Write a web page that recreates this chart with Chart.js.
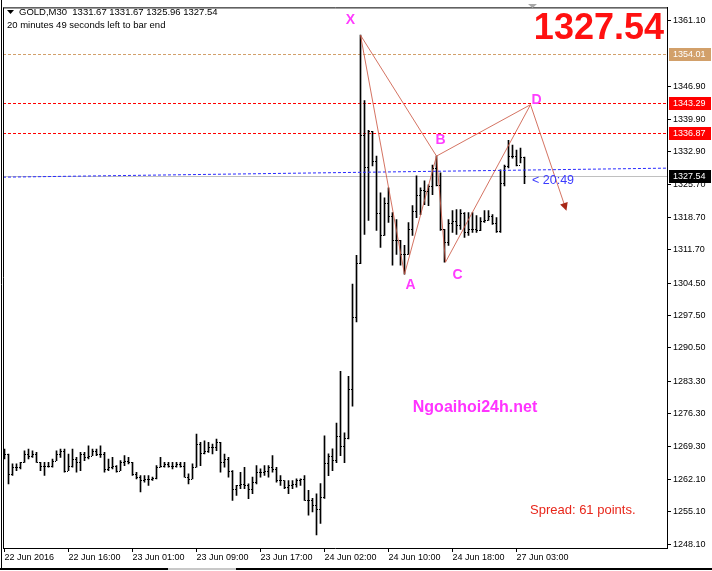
<!DOCTYPE html>
<html>
<head>
<meta charset="utf-8">
<script src="https://cdn.jsdelivr.net/npm/chart.js@4.4.0/dist/chart.umd.min.js"></script>
<style>
  html, body { margin: 0; padding: 0; background: #fff; }
  #wrap { width: 712px; height: 571px; position: relative; }
</style>
</head>
<body>
<div id="wrap"><canvas id="chart" width="712" height="571"></canvas></div>
<script>
// ================== Data ==================
const tickBars = [0, 16, 32, 48, 64, 80, 96, 112, 128];
const tickLabels = ["22 Jun 2016", "22 Jun 16:00", "23 Jun 01:00", "23 Jun 09:00", "23 Jun 17:00",
  "24 Jun 02:00", "24 Jun 10:00", "24 Jun 18:00", "27 Jun 03:00"];
const priceTicks = [1361.10, 1346.90, 1339.90, 1332.90, 1325.70, 1318.70, 1311.70, 1304.50,
  1297.50, 1290.50, 1283.30, 1276.30, 1269.30, 1262.10, 1255.10, 1248.10];

// GOLD M30 bars, 22 Jun 08:00 .. 27 Jun 04:00
const opens = [1268.00,1267.59,1263.30,1264.73,1264.73,1265.80,1267.59,1267.23,1267.59,1265.80,
  1265.09,1265.09,1265.09,1266.16,1267.59,1268.30,1264.02,1265.09,1266.52,1265.80,
  1267.59,1266.87,1267.23,1268.30,1267.59,1267.59,1264.38,1264.73,1265.09,1264.02,
  1265.80,1266.16,1265.80,1263.30,1262.59,1261.88,1262.23,1262.23,1262.45,1264.73,
  1265.09,1265.45,1265.09,1265.09,1265.45,1265.09,1262.59,1262.23,1264.73,1269.73,
  1267.80,1268.30,1269.01,1269.01,1270.09,1265.80,1266.52,1264.02,1260.09,1260.81,
  1261.16,1260.81,1260.09,1261.52,1263.66,1263.66,1264.02,1264.73,1264.38,1261.88,
  1261.88,1260.45,1260.81,1261.16,1261.88,1262.23,1257.59,1257.59,1256.50,1255.81,
  1258.30,1265.71,1267.21,1266.35,1271.50,1269.35,1271.07,1281.56,1297.20,1308.77,
  1336.41,1329.55,1337.26,1330.84,1319.70,1314.77,1321.84,1319.06,1313.70,1313.70,
  1310.70,1310.70,1316.06,1320.13,1323.55,1324.62,1324.41,1325.48,1329.34,1325.70,
  1316.06,1313.27,1317.56,1317.99,1317.13,1319.70,1315.42,1316.06,1316.06,1315.84,
  1317.99,1318.20,1319.06,1317.56,1315.63,1326.12,1329.77,1331.91,1331.91,1329.98,
  1331.67];
const highs = [1268.66,1267.59,1265.45,1265.45,1265.80,1268.30,1268.66,1268.30,1267.94,1265.80,
  1265.80,1265.80,1266.52,1268.30,1268.66,1268.66,1267.59,1268.66,1266.87,1267.94,
  1267.94,1269.37,1268.66,1268.66,1269.37,1267.94,1266.52,1266.87,1265.09,1266.16,
  1267.23,1266.87,1265.80,1263.66,1262.95,1262.95,1262.95,1262.59,1265.09,1266.87,
  1265.80,1265.80,1265.80,1265.80,1265.80,1265.80,1263.30,1265.45,1271.87,1270.09,
  1270.44,1270.09,1269.73,1270.80,1270.09,1267.59,1266.87,1264.02,1260.81,1263.66,
  1264.73,1261.16,1262.59,1265.09,1264.38,1265.09,1265.09,1267.23,1264.73,1262.95,
  1261.88,1261.88,1261.88,1262.23,1262.23,1262.95,1259.73,1258.00,1259.00,1261.20,
  1271.50,1267.64,1268.71,1274.28,1285.42,1272.14,1284.35,1304.27,1310.49,1358.00,
  1343.90,1337.48,1337.26,1331.91,1323.98,1322.91,1325.05,1319.70,1318.20,1313.70,
  1312.63,1317.56,1321.20,1327.63,1325.05,1326.55,1325.70,1329.98,1331.91,1328.27,
  1316.10,1318.20,1320.13,1320.34,1320.34,1319.70,1319.70,1319.70,1319.06,1318.63,
  1320.13,1320.13,1319.27,1318.63,1328.91,1329.98,1335.33,1334.26,1333.19,1333.62,
  1331.67];
const lows = [1266.52,1261.16,1262.95,1264.02,1264.38,1265.80,1266.52,1266.87,1265.80,1264.02,
  1262.95,1264.73,1264.73,1266.16,1266.87,1263.66,1264.02,1264.73,1263.66,1264.02,
  1266.16,1266.52,1267.23,1267.23,1266.87,1263.66,1264.02,1264.38,1263.66,1264.00,
  1265.09,1265.45,1262.95,1262.23,1259.38,1261.52,1260.81,1261.88,1262.23,1264.73,
  1264.73,1264.73,1264.38,1264.73,1264.73,1262.59,1261.16,1262.23,1264.73,1265.09,
  1267.59,1267.94,1267.59,1268.30,1263.66,1264.73,1262.59,1257.59,1258.66,1260.09,
  1260.09,1257.95,1259.02,1261.16,1262.59,1262.95,1262.59,1263.66,1261.52,1260.81,
  1260.09,1259.02,1260.09,1260.45,1260.81,1257.59,1254.38,1255.10,1250.10,1252.60,
  1258.01,1262.93,1264.00,1265.71,1267.21,1265.71,1270.85,1277.92,1296.13,1308.70,
  1314.99,1317.99,1329.77,1315.84,1312.20,1314.77,1317.56,1308.34,1310.70,1308.34,
  1306.41,1310.70,1314.77,1318.63,1319.27,1321.41,1321.20,1323.55,1325.48,1315.84,
  1308.99,1312.63,1315.42,1314.99,1316.06,1314.34,1314.77,1315.42,1315.42,1315.80,
  1317.56,1317.99,1317.13,1315.42,1315.42,1325.48,1329.34,1331.48,1329.77,1330.41,
  1325.96];
const closes = [1267.59,1263.30,1264.73,1264.73,1265.80,1267.59,1267.23,1267.59,1265.80,1265.09,
  1265.09,1265.09,1266.16,1267.59,1268.30,1264.02,1265.09,1266.52,1265.80,1267.59,
  1266.87,1267.23,1268.30,1267.59,1267.59,1264.38,1264.73,1265.09,1264.02,1265.80,
  1266.16,1265.80,1263.30,1262.59,1261.88,1262.23,1262.23,1262.45,1264.73,1265.09,
  1265.45,1265.09,1265.09,1265.45,1265.09,1262.59,1262.23,1264.73,1269.73,1267.80,
  1268.30,1269.01,1269.01,1270.09,1265.80,1266.52,1264.02,1260.09,1260.81,1261.16,
  1260.81,1260.09,1261.52,1263.66,1263.66,1264.02,1264.73,1264.38,1261.88,1261.88,
  1260.45,1260.81,1261.16,1261.88,1262.23,1257.59,1257.59,1256.50,1255.81,1258.30,
  1265.71,1267.21,1266.35,1271.50,1269.35,1271.07,1281.56,1297.20,1308.77,1336.41,
  1329.55,1337.26,1330.84,1319.70,1314.77,1321.84,1319.06,1313.70,1313.70,1310.70,
  1310.70,1316.06,1320.13,1323.55,1324.62,1324.41,1325.48,1329.34,1325.70,1316.06,
  1313.27,1317.56,1317.99,1317.13,1319.70,1315.42,1316.06,1316.06,1315.84,1317.99,
  1318.20,1319.06,1317.56,1315.63,1326.12,1329.77,1331.91,1331.91,1329.98,1331.67,
  1327.54];

// horizontal levels and the bid line
const levelPrices = [1354.01, 1343.29, 1336.87];
const levelColors = ["#d2a06a", "#ff0000", "#ff0000"];
const bidPrice = 1327.54;

// blue dashed trend line
const trendBars = [-0.375, 165.6];
const trendPrices = [1327.35, 1329.30];

// XABCD pattern
const patternNames = ["X", "A", "B", "C", "D"];
const patternBars = [89, 100, 108, 110.25, 131.5];
const patternPrices = [1358.0, 1306.4, 1331.9, 1309.0, 1343.0];
const arrowBars = [131.5, 140.25];
const arrowPrices = [1343.0, 1320.7];
const labelOffsets = [[-10, -15], [6, 11], [4, -16], [12, 13], [6, -5]];

// ================== Plugins ==================
const ohlcTicks = {
  id: "ohlcTicks",
  afterDatasetsDraw(chart) {
    const { ctx, scales: { x, y } } = chart;
    ctx.save();
    ctx.fillStyle = "#000";
    for (let i = 0; i < closes.length; i++) {
      const px = Math.floor(x.getPixelForValue(i));
      ctx.fillRect(px - 1, Math.round(y.getPixelForValue(opens[i])), 1, 1);
      ctx.fillRect(px + 1, Math.round(y.getPixelForValue(closes[i])), 1, 1);
    }
    ctx.restore();
  }
};

const levelLines = {
  id: "levelLines",
  beforeDatasetsDraw(chart) {
    const { ctx, chartArea: a, scales: { y } } = chart;
    ctx.save();
    ctx.lineWidth = 1;
    const by = Math.round(y.getPixelForValue(bidPrice)) + 0.5;
    ctx.strokeStyle = "#c0c0c0";
    ctx.beginPath(); ctx.moveTo(a.left, by); ctx.lineTo(a.right, by); ctx.stroke();
    ctx.setLineDash([3, 2]);
    levelPrices.forEach((p, k) => {
      const py = Math.round(y.getPixelForValue(p)) + 0.5;
      ctx.strokeStyle = levelColors[k];
      ctx.beginPath(); ctx.moveTo(a.left, py); ctx.lineTo(a.right, py); ctx.stroke();
    });
    ctx.restore();
  }
};

const overlay = {
  id: "overlay",
  afterDraw(chart) {
    const { ctx, chartArea: a, scales: { x, y } } = chart;
    ctx.save();

    // frame
    ctx.strokeStyle = "#000";
    ctx.lineWidth = 1;
    ctx.beginPath();
    ctx.moveTo(a.left + 0.5, a.top + 0.5); ctx.lineTo(a.right + 0.5, a.top + 0.5);
    ctx.moveTo(a.left + 0.5, a.top); ctx.lineTo(a.left + 0.5, a.bottom);
    ctx.moveTo(1.5, 0); ctx.lineTo(1.5, 569);
    ctx.stroke();
    ctx.fillStyle = "#000";
    ctx.fillRect(0, 568, 168, 2);
    ctx.fillRect(236, 568, 476, 2);
    ctx.fillStyle = "#c8c8c8";
    ctx.fillRect(168, 568, 68, 2);

    // chart shift marker
    ctx.fillStyle = "#a8a8a8";
    ctx.beginPath(); ctx.moveTo(528, 4); ctx.lineTo(537, 4); ctx.lineTo(532.5, 8); ctx.fill();

    // arrow head
    const x0 = x.getPixelForValue(arrowBars[0]), y0 = y.getPixelForValue(arrowPrices[0]);
    const x1 = x.getPixelForValue(arrowBars[1]), y1 = y.getPixelForValue(arrowPrices[1]);
    const ang = Math.atan2(y1 - y0, x1 - x0);
    ctx.fillStyle = "#a82818";
    ctx.beginPath();
    ctx.moveTo(x1 + 3 * Math.cos(ang), y1 + 3 * Math.sin(ang));
    ctx.lineTo(x1 - 5 * Math.cos(ang) + 4 * Math.sin(ang), y1 - 5 * Math.sin(ang) - 4 * Math.cos(ang));
    ctx.lineTo(x1 - 5 * Math.cos(ang) - 4 * Math.sin(ang), y1 - 5 * Math.sin(ang) + 4 * Math.cos(ang));
    ctx.fill();

    // pattern letters
    ctx.font = "bold 14px 'Liberation Sans', Arial, sans-serif";
    ctx.fillStyle = "#ff3cff";
    ctx.textAlign = "center";
    ctx.textBaseline = "middle";
    patternNames.forEach((n, k) => {
      const px = x.getPixelForValue(patternBars[k]) + labelOffsets[k][0];
      const py = y.getPixelForValue(patternPrices[k]) + labelOffsets[k][1];
      ctx.fillText(n, px, py);
    });

    // price boxes on the axis
    ctx.font = "9px 'Liberation Sans', Arial, sans-serif";
    ctx.textAlign = "left";
    const boxPrices = levelPrices.concat([bidPrice]);
    const boxColors = levelColors.concat(["#000000"]);
    boxPrices.forEach((p, k) => {
      const py = Math.round(y.getPixelForValue(p));
      ctx.fillStyle = boxColors[k];
      ctx.fillRect(a.right + 2, py - 6, 42, 13);
      ctx.fillStyle = "#fff";
      ctx.fillText(p.toFixed(2), a.right + 6, py + 1);
    });

    // header
    ctx.fillStyle = "#000";
    ctx.beginPath(); ctx.moveTo(7, 10); ctx.lineTo(14, 10); ctx.lineTo(10.5, 14); ctx.fill();
    ctx.font = "9.5px 'Liberation Sans', Arial, sans-serif";
    ctx.textBaseline = "alphabetic";
    ctx.fillText("GOLD,M30  1331.67 1331.67 1325.96 1327.54", 19, 15);
    ctx.fillText("20 minutes 49 seconds left to bar end", 7, 28);

    // big price
    ctx.font = "bold 36px 'Liberation Sans', Arial, sans-serif";
    ctx.fillStyle = "#ff1010";
    ctx.textAlign = "right";
    ctx.fillText(bidPrice.toFixed(2), 664, 39);

    // bar timer
    ctx.font = "12.5px 'Liberation Sans', Arial, sans-serif";
    ctx.fillStyle = "#3b3bff";
    ctx.textAlign = "left";
    ctx.fillText("< 20:49", 532, 184);

    // watermark
    ctx.font = "bold 16px 'Liberation Sans', Arial, sans-serif";
    ctx.fillStyle = "#ff33ff";
    ctx.textAlign = "center";
    ctx.fillText("Ngoaihoi24h.net", 475, 412);

    // spread
    ctx.font = "13px 'Liberation Sans', Arial, sans-serif";
    ctx.fillStyle = "#e8261a";
    ctx.textAlign = "left";
    ctx.fillText("Spread: 61 points.", 530, 514);

    ctx.restore();
  }
};

// ================== Chart ==================
const barData = closes.map((c, i) => ({ x: i, y: [lows[i], highs[i]] }));
const trendData = trendBars.map((b, i) => ({ x: b, y: trendPrices[i] }));
const patternData = patternBars.map((b, i) => ({ x: b, y: patternPrices[i] }));
const crossData = [0, 2, 4].map((k) => ({ x: patternBars[k], y: patternPrices[k] }));
const arrowData = arrowBars.map((b, i) => ({ x: b, y: arrowPrices[i] }));

const patternStyle = { borderColor: "rgba(205,90,70,0.85)", borderWidth: 1, pointRadius: 0, fill: false, tension: 0 };

new Chart(document.getElementById("chart").getContext("2d"), {
  data: {
    datasets: [
      { type: "bar", data: barData, backgroundColor: "#000", borderWidth: 0, barThickness: 1, grouped: false, order: 5 },
      { type: "line", data: trendData, borderColor: "#2a2aff", borderWidth: 1, borderDash: [3, 2], pointRadius: 0, order: 4 },
      Object.assign({ type: "line", data: patternData, order: 1 }, patternStyle),
      Object.assign({ type: "line", data: crossData, order: 1 }, patternStyle),
      Object.assign({ type: "line", data: arrowData, order: 1 }, patternStyle)
    ]
  },
  options: {
    responsive: false,
    devicePixelRatio: 1,
    animation: false,
    layout: { padding: { left: 3, top: 3, right: 0, bottom: 0 } },
    plugins: { legend: { display: false }, tooltip: { enabled: false } },
    scales: {
      x: {
        type: "linear",
        offset: false,
        min: -0.375,
        max: 165.625,
        afterFit: (s) => { s.height = 23; },
        afterBuildTicks: (s) => { s.ticks = tickBars.map((v) => ({ value: v })); },
        grid: { display: true, offset: false, drawOnChartArea: false, drawTicks: true, tickLength: 4, color: "#000" },
        border: { display: true, color: "#000" },
        ticks: {
          align: "start",
          padding: 0,
          maxRotation: 0,
          autoSkip: false,
          color: "#000",
          font: { family: "'Liberation Sans', Arial, sans-serif", size: 9 },
          callback: (v) => tickLabels[tickBars.indexOf(v)]
        }
      },
      y: {
        position: "right",
        min: 1247.3,
        max: 1364.0,
        afterFit: (s) => { s.width = 45; },
        afterBuildTicks: (s) => { s.ticks = priceTicks.map((v) => ({ value: v })); },
        grid: { display: true, drawOnChartArea: false, drawTicks: true, tickLength: 4, color: "#000" },
        border: { display: true, color: "#000" },
        ticks: {
          padding: 2,
          autoSkip: false,
          color: "#000",
          font: { family: "'Liberation Sans', Arial, sans-serif", size: 9 },
          callback: (v) => v.toFixed(2)
        }
      }
    }
  },
  plugins: [levelLines, ohlcTicks, overlay]
});
</script>
</body>
</html>
